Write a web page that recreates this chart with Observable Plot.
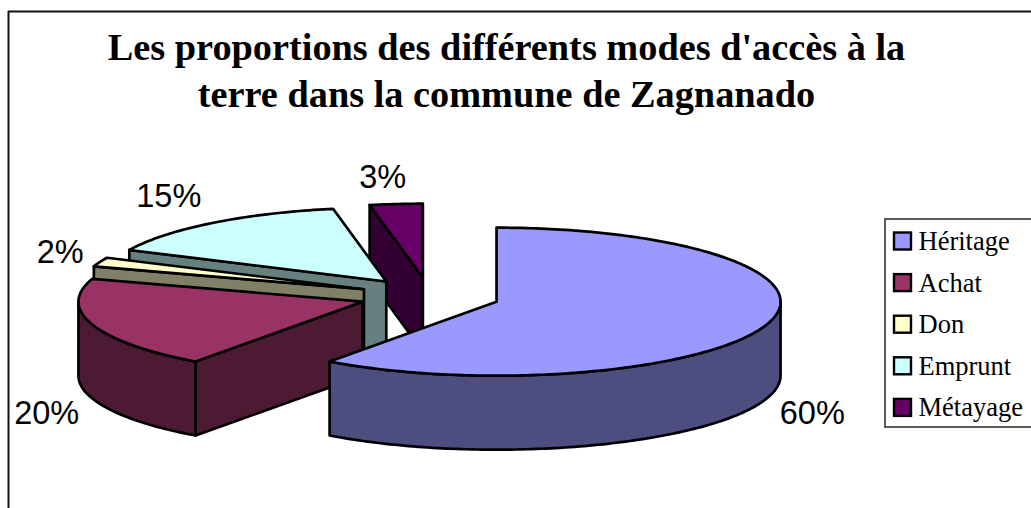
<!DOCTYPE html>
<html lang="fr">
<head>
<meta charset="utf-8">
<script src="https://cdn.jsdelivr.net/npm/d3@7"></script>
<script src="https://cdn.jsdelivr.net/npm/@observablehq/plot@0.6"></script>
<style>html,body{margin:0;padding:0;background:#fff;overflow:hidden}</style>
</head>
<body>
<div id="chart"></div>
<script>
// Data
const categories = ["Héritage", "Achat", "Don", "Emprunt", "Métayage"];
const shares = [60, 20, 2, 15, 3];
const titleLines = ["Les proportions des différents modes d'accès à la", "terre dans la commune de Zagnanado"];

// Styles
const topColors = ["#9999FF", "#993366", "#FFFFCC", "#CCFFFF", "#660066"];
const sideColors = ["#4D4D80", "#4D1A33", "#808066", "#668080", "#330033"];

// Pie layout
const W = 1031, H = 508;
const pie = {cx: 429, cy: 295.5, rx: 284, ry: 74, depth: 74, explode: 70.5};
const lw = 2.7;
const total = d3.sum(shares);
const rad = (a) => (a * Math.PI) / 180;

let acc = 0;
const slices = shares.map((v, i) => {
  const a0 = (acc / total) * 360;
  acc += v;
  const a1 = (acc / total) * 360;
  const mid = (a0 + a1) / 2;
  const cx = pie.cx + pie.explode * Math.sin(rad(mid));
  const cy = pie.cy - (pie.explode * Math.cos(rad(mid)) * pie.ry) / pie.rx;
  return {i, name: categories[i], v, a0, a1, mid, cx, cy};
});

const onRim = (s, a, drop = 0) => ({
  x: s.cx + pie.rx * Math.sin(rad(a)),
  y: s.cy - pie.ry * Math.cos(rad(a)) + drop
});
const arc = (s, a0, a1, drop = 0) => {
  const n = Math.max(2, Math.ceil(Math.abs(a1 - a0)));
  return d3.range(n + 1).map((k) => onRim(s, a0 + ((a1 - a0) * k) / n, drop));
};

// Polygons of one slice, painted back to front
function slicePolys(s) {
  const out = [];
  const apex = {x: s.cx, y: s.cy};
  const apexLow = {x: s.cx, y: s.cy + pie.depth};
  const side = sideColors[s.i], top = topColors[s.i];
  // cut face on the counter-clockwise end, seen when it turns to the viewer
  if (s.a0 > 180 && s.a0 < 360) {
    const e = onRim(s, s.a0), l = onRim(s, s.a0, pie.depth);
    out.push({pts: [apex, e, l, apexLow], fill: side});
  }
  // outer wall on the front half
  const w0 = Math.max(s.a0, 90), w1 = Math.min(s.a1, 270);
  if (w1 > w0) out.push({pts: [...arc(s, w0, w1), ...arc(s, w1, w0, pie.depth)], fill: side});
  out.push({pts: [apex, ...arc(s, s.a0, s.a1)], fill: top});
  return out;
}

// Métayage at the back, then Emprunt, Don, Achat, and Héritage at the front
const paintOrder = [4, 3, 2, 1, 0];
const polys = paintOrder.flatMap((i) => slicePolys(slices[i]));

// Data labels: around the rim, with the per-slice nudge of the original
const labelReach = {x: 332, y: 100};
const labelNudge = [[0, 44], [0, 44], [5, 0], [-14, -6], [-9, -1]];
const labels = slices.map((s, i) => ({
  text: `${s.v}%`,
  x: s.cx + labelReach.x * Math.sin(rad(s.mid)) + labelNudge[i][0],
  y: s.cy - labelReach.y * Math.cos(rad(s.mid)) + labelNudge[i][1] + (Math.cos(rad(s.mid)) < 0 ? pie.depth / 2 : 0)
}));

// Legend
const legend = {x1: 885, y1: 219, x2: 1040, y2: 427, swatchX: 894, swatchSize: 17, textX: 918, firstY: 241, step: 41.6};
const legendRows = categories.map((name, i) => ({name, i, y: legend.firstY + i * legend.step}));

const chart = Plot.plot({
  width: W, height: H,
  margin: 0,
  style: {background: "#fff"},
  x: {domain: [0, W], range: [0, W], axis: null},
  y: {domain: [0, H], range: [0, H], axis: null},
  marks: [
    // chart frame, running off the picture on the right and at the bottom
    Plot.line([{x: 8, y: H + 5}, {x: 8, y: 11}, {x: W + 5, y: 11}], {x: "x", y: "y", stroke: "#111", strokeWidth: 2}),
    ...polys.map((p) => Plot.line(p.pts, {x: "x", y: "y", fill: p.fill, stroke: "#000", strokeWidth: lw, curve: "linear-closed"})),
    Plot.text(titleLines, {
      x: [506, 506], y: [47, 94], text: (d) => d,
      fontFamily: "Liberation Serif", fontWeight: "bold", fontSize: 38.3, fill: "#000", lineAnchor: "middle"
    }),
    Plot.text(labels, {x: "x", y: "y", text: "text", fontFamily: "Liberation Sans", fontSize: 32.5, fill: "#000", lineAnchor: "middle"}),
    Plot.rect([legend], {x1: "x1", x2: "x2", y1: "y1", y2: "y2", fill: "#fff", stroke: "#333", strokeWidth: 1.6}),
    Plot.rect(legendRows, {
      x1: legend.swatchX, x2: legend.swatchX + legend.swatchSize,
      y1: (d) => d.y - legend.swatchSize / 2, y2: (d) => d.y + legend.swatchSize / 2,
      fill: (d) => topColors[d.i], stroke: "#000", strokeWidth: 2.4
    }),
    Plot.text(legendRows, {
      x: legend.textX, y: "y", text: "name", textAnchor: "start",
      fontFamily: "Liberation Serif", fontSize: 26.5, fill: "#000", lineAnchor: "middle"
    })
  ]
});
document.getElementById("chart").appendChild(chart);
</script>
</body>
</html>
